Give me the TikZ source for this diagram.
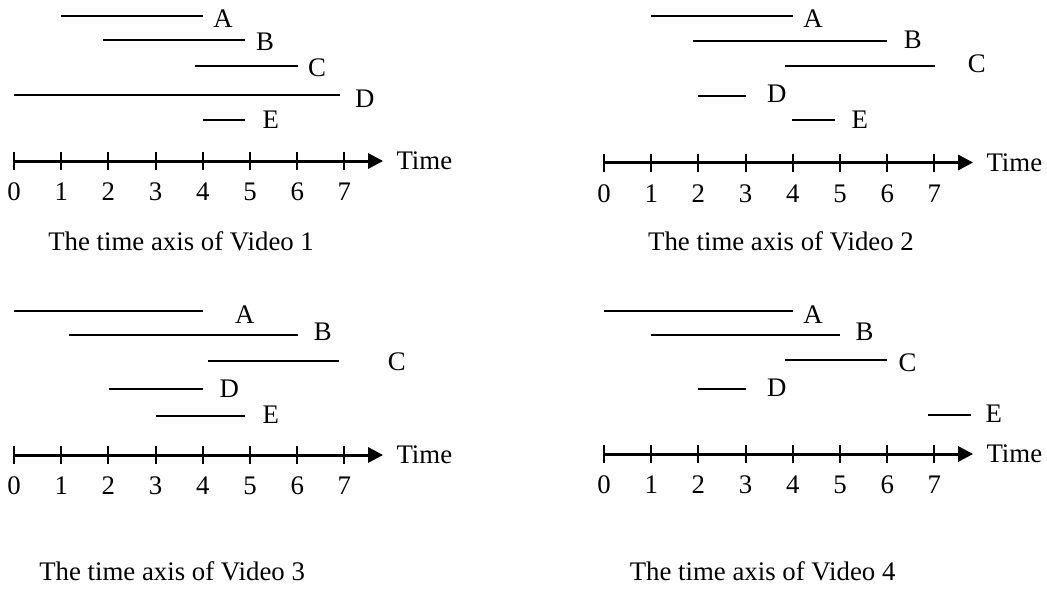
\documentclass[tikz,border=0pt]{standalone}
\usepackage{fontspec}
\setmainfont{Liberation Serif}
\usetikzlibrary{arrows.meta,positioning}

\begin{document}
\begin{tikzpicture}[x=0.5pt,y=-0.5pt,
every node/.style={inner sep=0pt,font=\fontsize{13.4pt}{16pt}\selectfont},
axis/.style={line width=1.5pt,-{Triangle[length=7.5pt,width=7.5pt]}},
tick/.style={line width=1pt},
seg/.style={line width=1pt}]
\useasboundingbox (0,0) rectangle (1047,590);
% time axes with ticks, numbers and captions
\foreach \px/\ay/\cx/\cy/\n in {7/161/3.54/241/1,302/162.5/3.75/241/2,7/455/3.35/571/3,302/454/3.36/571/4}{
\begin{scope}[xshift=\px pt,x=23.6pt]
\coordinate (o\n) at (0,\ay);
\coordinate (tip\n) at (7.82,\ay);
\draw[axis] (o\n)--(tip\n);
\foreach \t in {0,...,7}{
\draw[tick] (\t,\ay-9)--(\t,\ay+9);
\node (n\n\t) at (\t,\ay+31) {\t};
}
\node[right=6.5pt of tip\n] (time\n) {Time};
\node (cap\n) at (\cx,\cy) {The time axis of Video \n};
\end{scope}
}
% Video 1
\begin{scope}[xshift=7pt,x=23.6pt]
\draw[seg] (1,16)--(4,16);
\draw[seg] (1.88,40.3)--(4.9,40.3);
\draw[seg] (3.83,65.7)--(6.01,65.7);
\draw[seg] (0,95.3)--(6.91,95.3);
\draw[seg] (4,120)--(4.89,120);
\node (A1) at (4.43,18.7) {A};
\node (B1) at (5.32,42) {B};
\node (C1) at (6.42,67.7) {C};
\node (D1) at (7.43,98.3) {D};
\node (E1) at (5.44,120) {E};
\end{scope}
% Video 2
\begin{scope}[xshift=302pt,x=23.6pt]
\draw[seg] (1,16)--(4.01,16);
\draw[seg] (1.88,40.7)--(6,40.7);
\draw[seg] (3.83,65.7)--(7.01,65.7);
\draw[seg] (2,95.7)--(3.01,95.7);
\draw[seg] (3.99,120.3)--(4.89,120.3);
\node (A2) at (4.43,18.7) {A};
\node (B2) at (6.54,40) {B};
\node (C2) at (7.9,63.3) {C};
\node (D2) at (3.66,93.8) {D};
\node (E2) at (5.42,119.7) {E};
\end{scope}
% Video 3
\begin{scope}[xshift=7pt,x=23.6pt]
\draw[seg] (0,310.7)--(4.01,310.7);
\draw[seg] (1.17,335)--(6.01,335);
\draw[seg] (4.1,361)--(6.89,361);
\draw[seg] (2.01,389.3)--(4.01,389.3);
\draw[seg] (3,416)--(4.89,416);
\node (A3) at (4.89,314.3) {A};
\node (B3) at (6.54,331.7) {B};
\node (C3) at (8.11,362.2) {C};
\node (D3) at (4.56,388.3) {D};
\node (E3) at (5.44,415) {E};
\end{scope}
% Video 4
\begin{scope}[xshift=302pt,x=23.6pt]
\draw[seg] (0,310.7)--(4.01,310.7);
\draw[seg] (1,335.3)--(5.01,335.3);
\draw[seg] (3.83,360)--(6,360);
\draw[seg] (2,389.3)--(3.01,389.3);
\draw[seg] (6.87,414.7)--(7.78,414.7);
\node (A4) at (4.43,314.3) {A};
\node (B4) at (5.52,331.7) {B};
\node (C4) at (6.43,362.5) {C};
\node (D4) at (3.66,388) {D};
\node (E4) at (8.26,414) {E};
\end{scope}
\end{tikzpicture}
\end{document}
